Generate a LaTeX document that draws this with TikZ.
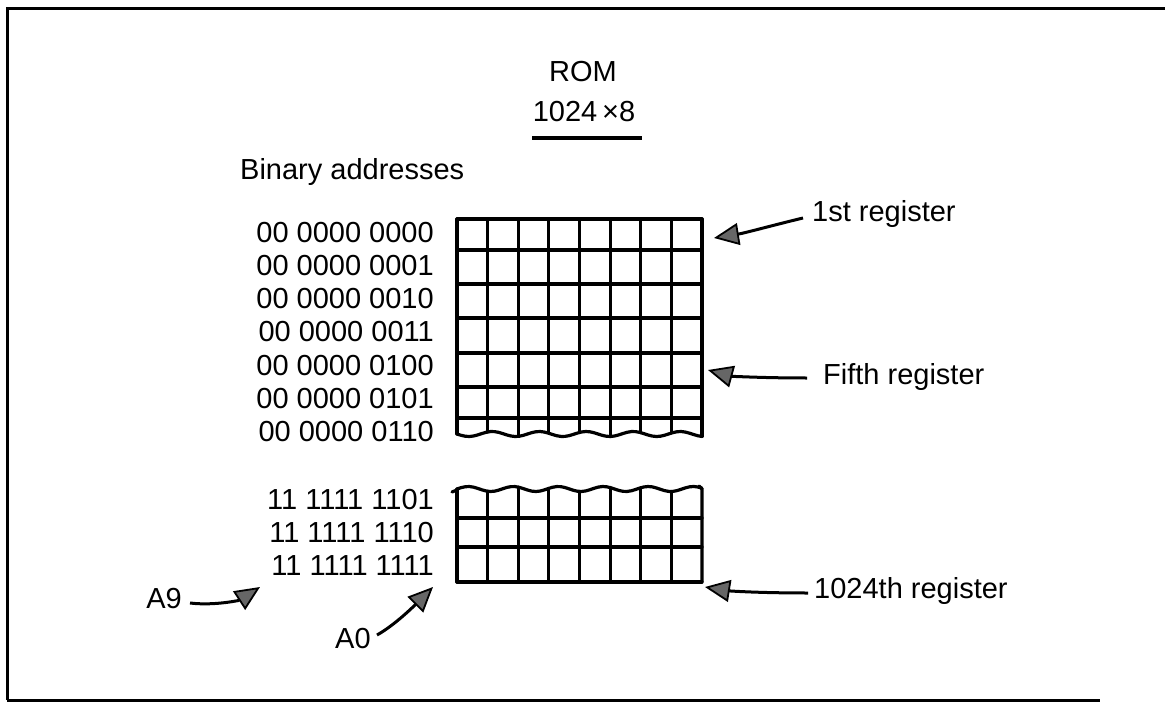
\documentclass[tikz,border=0pt]{standalone}
\usepackage{fontspec}
\setmainfont{Liberation Sans}
\usetikzlibrary{arrows.meta}
\tikzset{
  txt/.style={inner sep=0pt, font=\fontsize{29}{34}\selectfont},
  addr/.style={txt, anchor=base east},
  lbl/.style={txt, anchor=base west},
  gridline/.style={line width=3.2pt, line cap=round, line join=round},
  ptr/.style={line width=3pt, -{Triangle[length=25pt,width=22pt,fill=black!60,line width=1.8pt]}},
  frameline/.style={line width=3pt}
}
\begin{document}
\begin{tikzpicture}[x=1pt,y=-1pt]
\useasboundingbox (0,0) rectangle (1165,706);
% frame
\draw[frameline] (7,700) -- (7,9) -- (1165,9);
\draw[frameline] (7,700) -- (1100,700);
% title
\node[txt, anchor=base] (rom) at (583,82) {ROM};
\node[txt, anchor=base] (size) at (584,122) {1024\,×8};
\draw[line width=3.2pt] (532,138) -- (642,138);
% heading
\node[lbl] (bin) at (240,179) {Binary addresses};
% addresses top
\foreach \t [count=\i from 0] in {00 0000 0000,00 0000 0001,00 0000 0010,00 0000 0011,00 0000 0100,00 0000 0101,00 0000 0110}{
  \node[addr] (a\i) at (434,{242+33.3*\i}) {\t};
}
\foreach \t [count=\i from 0] in {11 1111 1101,11 1111 1110,11 1111 1111}{
  \node[addr] (b\i) at (434,{509+33*\i}) {\t};
}
% top grid
\foreach \y in {219,250,284,318,353,387,418}{
  \draw[gridline] (457,\y) -- (702,\y);
}
\foreach \i in {0,...,8}{
  \draw[gridline] ({457+30.625*\i},219) -- ({457+30.625*\i},{434+2.5*sin(30.625*\i/47*360)});
}
\draw[gridline] plot[smooth, domain=457:702, samples=60] (\x,{434+2.5*sin((\x-457)/47*360)});
% bottom grid
\draw[gridline] plot[smooth, domain=457:702, samples=60] (\x,{489-2.5*sin((\x-457)/45*360)});
\draw[gridline] (452,492) -- (457,490);
\draw[gridline] (702,582) -- (702,489) -- (699,486);
\foreach \i in {0,...,7}{
  \draw[gridline] ({457+30.625*\i},{489-2.5*sin(30.625*\i/45*360)}) -- ({457+30.625*\i},582);
}
\foreach \y in {518,547,582}{
  \draw[gridline] (457,\y) -- (702,\y);
}
% labels on right
\node[lbl] (r1) at (812,222) {1st register};
\node[lbl] (r5) at (823,384) {Fifth register};
\node[lbl] (r1024) at (814,598) {1024th register};
\node[txt, anchor=base east] (a9) at (182,608) {A9};
\node[txt, anchor=base west] (a0) at (335,648) {A0};
% arrow ends
\coordinate (t1) at (803,218);   \coordinate (h1) at (714,238);
\coordinate (t5) at (807,378);   \coordinate (h5) at (708,370);
\coordinate (t1024) at (808,593);\coordinate (h1024) at (705,587);
\coordinate (t9) at (190,603);   \coordinate (h9) at (260,587);
\coordinate (t0) at (377,635);   \coordinate (h0) at (433,587);
\draw[ptr] (t1) .. controls (770,226) and (745,233) .. (h1);
\draw[ptr] (t5) .. controls (760,378) and (730,376) .. (h5);
\draw[ptr] (t1024) .. controls (760,593) and (730,591) .. (h1024);
\draw[ptr] (t9) .. controls (215,606) and (240,600) .. (h9);
\draw[ptr] (t0) .. controls (395,625) and (415,605) .. (h0);
\end{tikzpicture}
\end{document}
